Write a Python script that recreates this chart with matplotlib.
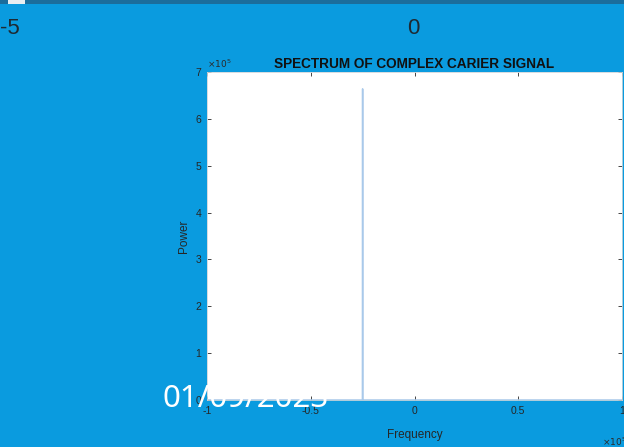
import matplotlib
matplotlib.use("Agg")
import matplotlib.pyplot as plt
from matplotlib.patches import Rectangle

plt.rcParams["font.family"] = ["Liberation Sans", "DejaVu Sans"]

# spectrum of the carrier: a single line at -25 kHz
freq = [-100000, -25100, -25000, -24900, 100000]
power = [0, 0, 6.64e5, 0, 0]

xticks = [-1e5, -0.5e5, 0, 0.5e5, 1e5]
xticklabels = ["-1", "-0.5", "0", "0.5", "1"]
yticks = [0, 1e5, 2e5, 3e5, 4e5, 5e5, 6e5, 7e5]
yticklabels = ["0", "1", "2", "3", "4", "5", "6", "7"]

bg = "#0a9bdf"
fig = plt.figure(figsize=(6.24, 4.47), dpi=100, facecolor=bg)

# strip of the previous figure above
fig.patches.append(Rectangle((0, 1 - 4/447), 1, 4/447, transform=fig.transFigure,
                             facecolor="#1b6d9c", edgecolor="none"))
fig.patches.append(Rectangle((8/624, 1 - 4/447), 17/624, 4/447, transform=fig.transFigure,
                             facecolor="#e8eef2", edgecolor="none"))
fig.text(0.0, 1 - 29/447, "-5", fontsize=16, color="#1e2a33", ha="left", va="center")
fig.text(413/624, 1 - 29/447, "0", fontsize=16, color="#1e2a33", ha="center", va="center")

ax = fig.add_axes([207/624, 47/447, 415/624, 328/447])
ax.set_facecolor("white")
ax.plot(freq, power, color="#a9c9ea", linewidth=1.1)
ax.set_xlim(-1e5, 1e5)
ax.set_ylim(0, 7e5)
ax.set_xticks(xticks)
ax.set_xticklabels(xticklabels)
ax.set_yticks(yticks)
ax.set_yticklabels(yticklabels)
ax.tick_params(direction="in", length=3, width=0.6, labelsize=7.5, colors="#262626",
               top=True, right=True, pad=4)
for s in ax.spines.values():
    s.set_color("#d0d6da")
    s.set_linewidth(0.6)

ax.set_title("SPECTRUM OF COMPLEX CARIER SIGNAL", fontsize=9.8, fontweight="bold",
             color="#111111", pad=3)
ax.set_xlabel("Frequency", fontsize=8.5, color="#262626", labelpad=10)
ax.set_ylabel("Power", fontsize=8.5, color="#262626", labelpad=4)

# exponent markers
ax.text(0.0, 1.005, r"$\times10^5$", transform=ax.transAxes, fontsize=6.5,
        color="#2a2a2a", ha="left", va="bottom")
ax.text(1.01, -0.11, r"$\times10^5$", transform=ax.transAxes, fontsize=6.5,
        color="#2a2a2a", ha="right", va="top")

# slide footer date
fig.text(163/624, 1 - 399/447, "01/09/2023", fontsize=22.5, color="white",
         family=["Noto Sans", "DejaVu Sans"], ha="left", va="center")

fig.savefig("out.png", dpi=100, facecolor=bg)
